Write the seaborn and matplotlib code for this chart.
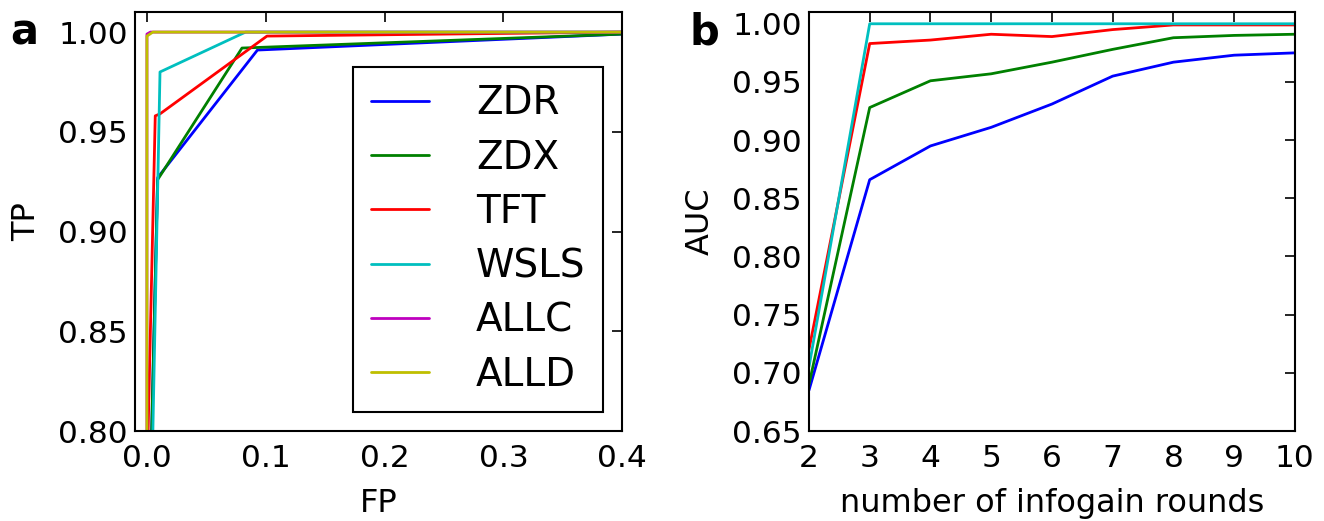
import numpy as np
import pandas as pd
import matplotlib
matplotlib.use('Agg')
import matplotlib.pyplot as plt
import seaborn as sns
from matplotlib.ticker import FormatStrFormatter

# ROC curves (panel a)
strategies = ['ZDR', 'ZDX', 'TFT', 'WSLS', 'ALLC', 'ALLD']
colors = ['b', 'g', 'r', 'c', 'm', 'y']

fp_zdr = [0.0, 0.004, 0.009, 0.093, 0.4]
tp_zdr = [0.0, 0.80, 0.927, 0.991, 0.999]
fp_zdx = [0.0, 0.004, 0.009, 0.080, 0.4]
tp_zdx = [0.0, 0.80, 0.926, 0.992, 0.999]
fp_tft = [0.0, 0.001, 0.007, 0.011, 0.101, 0.4]
tp_tft = [0.0, 0.80, 0.958, 0.959, 0.998, 1.0]
fp_wsls = [0.0, 0.005, 0.011, 0.083, 0.4]
tp_wsls = [0.0, 0.80, 0.980, 1.0, 1.0]
fp_allc = [0.0, 0.0, 0.003, 0.4]
tp_allc = [0.0, 0.999, 1.0, 1.0]
fp_alld = [0.0, 0.0, 0.005, 0.4]
tp_alld = [0.0, 0.998, 1.0, 1.0]

# AUC vs number of infogain rounds (panel b)
rounds = [2, 3, 4, 5, 6, 7, 8, 9, 10]
auc_zdr = [0.685, 0.866, 0.895, 0.911, 0.931, 0.955, 0.967, 0.973, 0.975]
auc_zdx = [0.690, 0.928, 0.951, 0.957, 0.967, 0.978, 0.988, 0.990, 0.991]
auc_tft = [0.720, 0.983, 0.986, 0.991, 0.989, 0.995, 0.999, 0.999, 0.999]
auc_wsls = [0.705, 1.0, 1.0, 1.0, 1.0, 1.0, 1.0, 1.0, 1.0]

roc = pd.concat([
    pd.DataFrame({'FP': fp, 'TP': tp, 'strategy': s})
    for s, fp, tp in zip(strategies,
                         [fp_zdr, fp_zdx, fp_tft, fp_wsls, fp_allc, fp_alld],
                         [tp_zdr, tp_zdx, tp_tft, tp_wsls, tp_allc, tp_alld])
], ignore_index=True)

auc = pd.concat([
    pd.DataFrame({'rounds': rounds, 'AUC': a, 'strategy': s})
    for s, a in zip(strategies[:4], [auc_zdr, auc_zdx, auc_tft, auc_wsls])
], ignore_index=True)

sns.set_style('white')
plt.rcParams['font.family'] = ['DejaVu Sans']
plt.rcParams['xtick.direction'] = 'in'
plt.rcParams['ytick.direction'] = 'in'
plt.rcParams['text.color'] = 'black'
plt.rcParams['axes.labelcolor'] = 'black'
plt.rcParams['xtick.color'] = 'black'
plt.rcParams['ytick.color'] = 'black'

fig = plt.figure(figsize=(13.24, 5.21), dpi=100)
ax1 = fig.add_axes([0.102, 0.1727, 0.368, 0.804])
ax2 = fig.add_axes([0.611, 0.1727, 0.367, 0.804])

palette = dict(zip(strategies, colors))

sns.lineplot(data=roc, x='FP', y='TP', hue='strategy', palette=palette,
             sort=False, estimator=None, lw=2, ax=ax1)
sns.lineplot(data=auc, x='rounds', y='AUC', hue='strategy', palette=palette,
             estimator=None, lw=2, legend=False, ax=ax2)

ax1.set_xlim(-0.01, 0.4)
ax1.set_ylim(0.8, 1.01)
ax1.set_xticks([0.0, 0.1, 0.2, 0.3, 0.4])
ax1.set_yticks([0.80, 0.85, 0.90, 0.95, 1.00])
ax1.xaxis.set_major_formatter(FormatStrFormatter('%.1f'))
ax1.yaxis.set_major_formatter(FormatStrFormatter('%.2f'))
ax1.set_xlabel('FP', fontsize=23, labelpad=11)
ax1.set_ylabel('TP', fontsize=23, labelpad=12)

ax2.set_xlim(2, 10)
ax2.set_ylim(0.65, 1.01)
ax2.set_xticks(rounds)
ax2.set_yticks(np.arange(0.65, 1.001, 0.05))
ax2.yaxis.set_major_formatter(FormatStrFormatter('%.2f'))
ax2.set_xlabel('number of infogain rounds', fontsize=23, labelpad=11)
ax2.set_ylabel('AUC', fontsize=23, labelpad=12)

for ax in (ax1, ax2):
    ax.tick_params(axis='both', which='major', labelsize=22.5, length=7, width=1.2,
                   top=True, right=True)
    ax.tick_params(axis='x', pad=9)
    ax.tick_params(axis='y', pad=5)
    for sp in ax.spines.values():
        sp.set_linewidth(1.5)
        sp.set_color('black')

handles, labels = ax1.get_legend_handles_labels()
leg = ax1.legend(handles, labels, loc='lower right', fontsize=28, frameon=True,
                 fancybox=False, framealpha=1, handlelength=1.5, handletextpad=1.2,
                 borderaxespad=0.5, labelspacing=0.42, borderpad=0.45)
leg.get_frame().set_edgecolor('black')
leg.get_frame().set_linewidth(1.5)

fig.text(0.008, 0.937, 'a', fontsize=30, fontweight='bold', ha='left', va='center')
fig.text(0.521, 0.937, 'b', fontsize=30, fontweight='bold', ha='left', va='center')

fig.savefig('out.png', dpi=100)
